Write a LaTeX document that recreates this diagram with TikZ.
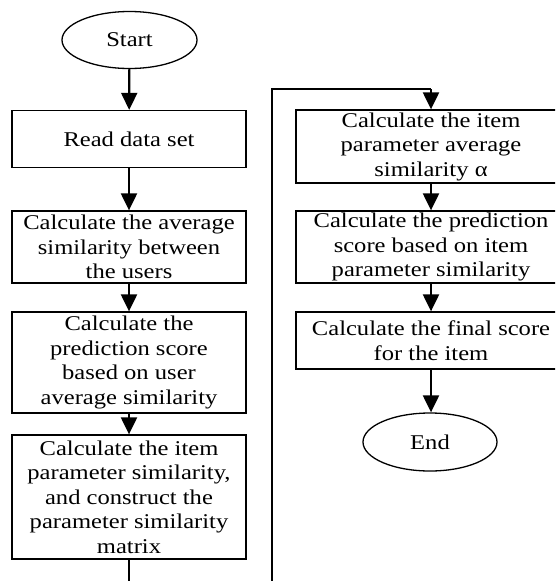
\documentclass[tikz,border=0pt]{standalone}
\usepackage{fontspec}
\setmainfont[FakeStretch=1.17]{Liberation Serif}
\usetikzlibrary{shapes.geometric,arrows.meta}
\begin{document}
\begin{tikzpicture}[x=1pt,y=-1pt,
  every node/.style={font=\fontsize{21}{24.5}\selectfont, inner sep=0pt, align=center},
  stepbox/.style={draw, line width=1.3pt, rectangle, minimum height=#1},
  leftbox/.style={stepbox=#1, minimum width=234pt},
  rightbox/.style={stepbox=#1, minimum width=270pt},
  term/.style={draw, line width=1.3pt, ellipse, minimum width=135pt, minimum height=57pt},
  flow/.style={line width=2.2pt, -{Triangle[length=17pt,width=16pt]}},
  link/.style={line width=2.2pt}]
\useasboundingbox (0,0) rectangle (555,581);
\clip (0,0) rectangle (555,581);

% left column
\node[term] (start) at (129.5,40) {Start};
\node[leftbox=57pt] (read) at (129,139) {Read data set};
\node[leftbox=72pt] (usim) at (129,247) {Calculate the average\\similarity between\\the users};
\node[leftbox=101pt] (upred) at (129,362.5) {Calculate the\\prediction score\\based on user\\average similarity};
\node[leftbox=124pt] (isim) at (129,497) {Calculate the item\\parameter similarity,\\and construct the\\parameter similarity\\matrix};

% right column
\node[rightbox=73pt] (alpha) at (431,146.5) {Calculate the item\\parameter average\\similarity α};
\node[rightbox=72pt] (ipred) at (431,247) {Calculate the prediction\\score based on item\\parameter similarity};
\node[rightbox=57pt] (final) at (431,340.5) {Calculate the final score\\for the item};
\node[term, minimum width=134pt, minimum height=58pt] (end) at (430,442) {End};

% connectors
\draw[flow] (start) -- (read);
\draw[flow] (read) -- (usim);
\draw[flow] (usim) -- (upred);
\draw[flow] (upred) -- (isim);

\coordinate (loopA) at (129,600);
\coordinate (loopB) at (272,600);
\coordinate (loopC) at (272,89);
\coordinate (loopD) at (431,89);
\draw[link] (isim.south) -- (loopA) -- (loopB) -- (loopC) -- (loopD);
\draw[flow] (loopD) -- (alpha.north);

\draw[flow] (alpha) -- (ipred);
\draw[flow] (ipred) -- (final);
\draw[flow] (final.south) -- (final.south |- end.north);
\end{tikzpicture}
\end{document}
